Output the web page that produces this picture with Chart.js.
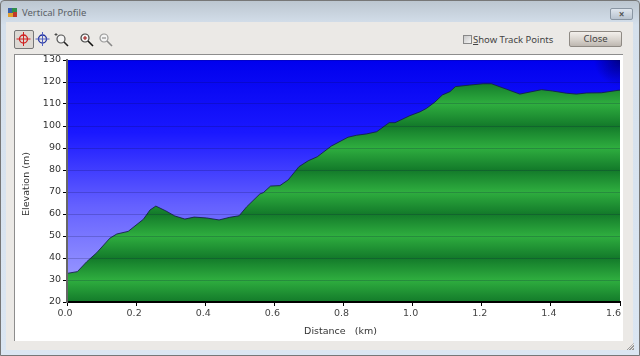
<!DOCTYPE html>
<html lang="en">
<head>
    <meta charset="UTF-8">
    <title>Vertical Profile</title>
    <script src="https://cdn.jsdelivr.net/npm/chart.js"></script>
    <style>
        html, body { margin: 0; padding: 0; }
        body { width: 640px; height: 356px; overflow: hidden; position: relative; font-family: "Noto Sans", sans-serif; background: #c9d6e4; }
        .frame { position: absolute; left: 0; top: 0; width: 638px; height: 354px; border: 1px solid #777; border-radius: 4px 4px 0 0; background: linear-gradient(#bcc6d0, #d5e0ec 24px, #dbe6f2); }
        .title { position: absolute; left: 22px; top: 6px; font-size: 9.5px; color: #5a5f66; }
        .appicon { position: absolute; left: 8px; top: 8px; width: 9px; height: 9px; border: 0; background: conic-gradient(#2f8f4a 25%, #c0392b 25% 50%, #e0a030 50% 75%, #3a5fa8 75%); }
        .x { position: absolute; left: 610px; top: 8px; width: 21px; height: 10px; border: 1px solid #8a96a3; border-radius: 2px; background: linear-gradient(#dfe6ee, #b8c3cf); font-size: 10px; line-height: 10px; text-align: center; color: #555; font-weight: bold; }
        .content { position: absolute; left: 6px; top: 22px; width: 627px; height: 328px; background: #ebe9e6; }
        .panel { position: absolute; left: 14px; top: 54px; width: 608px; height: 286px; background: #fff; border-left: 1px solid #8d8d8d; border-top: 1px solid #8d8d8d; }
        .tool { position: absolute; top: 31px; width: 17px; height: 16px; }
        .toolon { position: absolute; left: 14px; top: 30px; width: 18px; height: 17px; border: 1px solid #777; border-radius: 2px; background: #dcd8d3; }
        .check { position: absolute; left: 463px; top: 35px; width: 7px; height: 7px; border: 1px solid #888; background: linear-gradient(135deg, #c8c8c8, #f4f4f4); }
        .checklabel { position: absolute; left: 473px; top: 33px; font-size: 9.5px; color: #444; }
        .close { position: absolute; left: 569px; top: 31px; width: 51px; height: 14px; border: 1px solid #8f8a84; border-radius: 2px; background: linear-gradient(#f3f0ec, #d8d3cd 55%, #bdb7b0); font-size: 9.5px; line-height: 14px; text-align: center; color: #444; }
        .grip { position: absolute; left: 626px; top: 343px; width: 8px; height: 7px; background: repeating-linear-gradient(135deg, #ebe9e6 0 1px, #999 1px 2px); clip-path: polygon(100% 0, 100% 100%, 0 100%); }
        canvas { position: absolute; left: 0; top: 0; }
    </style>
</head>
<body>
    <div class="frame"></div>
    <div class="appicon"></div>
    <div class="title">Vertical Profile</div>
    <div class="x">×</div>
    <div class="content"></div>
    <div class="toolon"></div>
    <svg class="tool" style="left:15px" viewBox="0 0 17 16"><circle cx="8.5" cy="8" r="4" fill="none" stroke="#d02020" stroke-width="1.3"/><path d="M8.5 1v14M1.5 8h14" stroke="#d02020" stroke-width="1"/></svg>
    <svg class="tool" style="left:34px" viewBox="0 0 17 16"><circle cx="8.5" cy="8" r="4" fill="none" stroke="#2030a0" stroke-width="1.3"/><path d="M8.5 1v14M1.5 8h14" stroke="#5060c0" stroke-width="1"/></svg>
    <svg class="tool" style="left:53px" viewBox="0 0 17 16"><circle cx="8" cy="8" r="4" fill="#f4f4f4" stroke="#555" stroke-width="1.2"/><path d="M11 11l4 4" stroke="#222" stroke-width="1.6"/><path d="M3 2v3M1.5 3.5h3" stroke="#333" stroke-width=".8"/></svg>
    <svg class="tool" style="left:78px" viewBox="0 0 17 16"><circle cx="7" cy="7" r="4" fill="#f4f4f4" stroke="#444" stroke-width="1.2"/><path d="M10 10l5 5" stroke="#111" stroke-width="1.6"/><path d="M7 5v4M5 7h4" stroke="#a01818" stroke-width="1.1"/></svg>
    <svg class="tool" style="left:97px" viewBox="0 0 17 16"><circle cx="7" cy="7" r="4" fill="#f4f4f4" stroke="#999" stroke-width="1.2"/><path d="M10 10l5 5" stroke="#888" stroke-width="1.6"/><path d="M5 7h4" stroke="#888" stroke-width="1.1"/></svg>
    <div class="check"></div>
    <div class="checklabel"><u>S</u>how Track Points</div>
    <div class="close">Close</div>
    <div class="grip"></div>
    <div class="panel"></div>
    <canvas id="profileChart" width="640" height="356"></canvas>

    <script>
        const distanceKm = [0, 0.03, 0.057, 0.086, 0.124, 0.144, 0.177, 0.221, 0.24, 0.257, 0.286, 0.312, 0.341, 0.368, 0.404, 0.44, 0.471, 0.498, 0.52, 0.558, 0.568, 0.589, 0.616, 0.64, 0.671, 0.698, 0.724, 0.765, 0.813, 0.838, 0.867, 0.896, 0.932, 0.949, 0.992, 1.021, 1.04, 1.064, 1.086, 1.108, 1.124, 1.165, 1.204, 1.228, 1.272, 1.31, 1.373, 1.405, 1.445, 1.474, 1.503, 1.546, 1.594, 1.6];
        const elevationM = [33, 33.8, 38.3, 42.4, 49, 50.9, 52.1, 57.6, 61.8, 63.6, 61.4, 59.1, 57.7, 58.6, 58.2, 57.3, 58.5, 59.2, 63.3, 69.1, 69.7, 72.7, 72.9, 75.5, 81.5, 84.2, 86, 90.9, 94.9, 95.8, 96.4, 97.4, 101.5, 101.5, 104.7, 106.4, 108, 110.8, 114.1, 115.6, 117.9, 118.6, 119.2, 119.2, 116.7, 114.5, 116.5, 115.9, 114.9, 114.5, 115, 115.1, 116.2, 116.3];
        const yRange = [20, 130];
        const xRange = [0, 1.6];
        const greenBandValues = [20, 30, 40, 50, 60, 70, 80, 90, 100, 110, 120, 130];

        // Green banding follows the y scale, dark on 20, 40, 60... and bright between
        function greenBands(context) {
            const chart = context.chart;
            if (!chart.chartArea) return '#1f9a35';
            const y = chart.scales.y;
            const g = chart.ctx.createLinearGradient(0, y.bottom, 0, y.top);
            greenBandValues.forEach(function(v) {
                const stop = (v - yRange[0]) / (yRange[1] - yRange[0]);
                g.addColorStop(stop, v % 20 === 0 ? '#137a2a' : '#2fae3f');
            });
            return g;
        }

        const skyPlugin = {
            id: 'sky',
            beforeDatasetsDraw(chart) {
                const a = chart.chartArea, c = chart.ctx;
                const g = c.createLinearGradient(0, a.top, 0, a.bottom);
                g.addColorStop(0, '#0000ee');
                g.addColorStop(0.3, '#1a18ff');
                g.addColorStop(0.6, '#6460ff');
                g.addColorStop(1, '#a8a8ff');
                c.save();
                c.fillStyle = g;
                c.fillRect(a.left, a.top, a.width, a.height);
                // dark corner top right
                const r = c.createRadialGradient(a.right, a.top, 0, a.right, a.top, 26);
                r.addColorStop(0, 'rgba(0,0,70,0.6)');
                r.addColorStop(1, 'rgba(0,0,70,0)');
                c.fillStyle = r;
                c.fillRect(a.right - 26, a.top, 26, 26);
                c.restore();
            }
        };

        new Chart(document.getElementById('profileChart'), {
            type: 'line',
            plugins: [skyPlugin],
            data: {
                datasets: [{
                    data: distanceKm.map(function(d, i) { return { x: d, y: elevationM[i] }; }),
                    borderColor: 'rgba(20,30,70,0.85)',
                    borderWidth: 1,
                    pointRadius: 0,
                    tension: 0,
                    fill: 'start',
                    backgroundColor: greenBands
                }]
            },
            options: {
                responsive: false,
                animation: false,
                layout: { padding: { left: 0, top: 60, right: 20, bottom: 0 } },
                plugins: { legend: { display: false }, tooltip: { enabled: false } },
                scales: {
                    x: {
                        type: 'linear',
                        min: xRange[0],
                        max: xRange[1],
                        afterFit(scale) { scale.height = 54; },
                        grid: { drawOnChartArea: false, tickColor: '#000', tickLength: 4 },
                        border: { color: '#000', width: 2, z: 2 },
                        ticks: {
                            stepSize: 0.2,
                            maxRotation: 0,
                            padding: 2,
                            labelOffset: -2,
                            color: '#444',
                            font: { family: 'DejaVu Sans', size: 9.5 },
                            callback(v) {
                                const s = v.toFixed(1);
                                return v >= 1.6 ? s + '\u00a0\u00a0\u00a0' : s;
                            }
                        },
                        title: {
                            display: true,
                            // trailing spaces pull the centred title left, it sits off-centre in the original
                            text: 'Distance\u00a0\u00a0\u00a0(km)\u00a0\u00a0',
                            color: '#333',
                            font: { family: 'DejaVu Sans', size: 9.5 },
                            padding: { top: 4, bottom: 19 }
                        }
                    },
                    y: {
                        min: yRange[0],
                        max: yRange[1],
                        afterFit(scale) { scale.width = 67; },
                        grid: { color: 'rgba(10,10,60,0.2)', tickColor: '#000', tickLength: 4, z: 1 },
                        border: { color: '#666', width: 2, z: 2 },
                        ticks: {
                            stepSize: 10,
                            padding: 2,
                            color: '#333',
                            font: { family: 'DejaVu Sans', size: 9.5 }
                        },
                        title: {
                            display: true,
                            text: 'Elevation (m)\u00a0\u00a0',
                            color: '#333',
                            font: { family: 'DejaVu Sans', size: 9.5 },
                            padding: { top: 21, bottom: 8 }
                        }
                    }
                }
            }
        });
    </script>
</body>
</html>
